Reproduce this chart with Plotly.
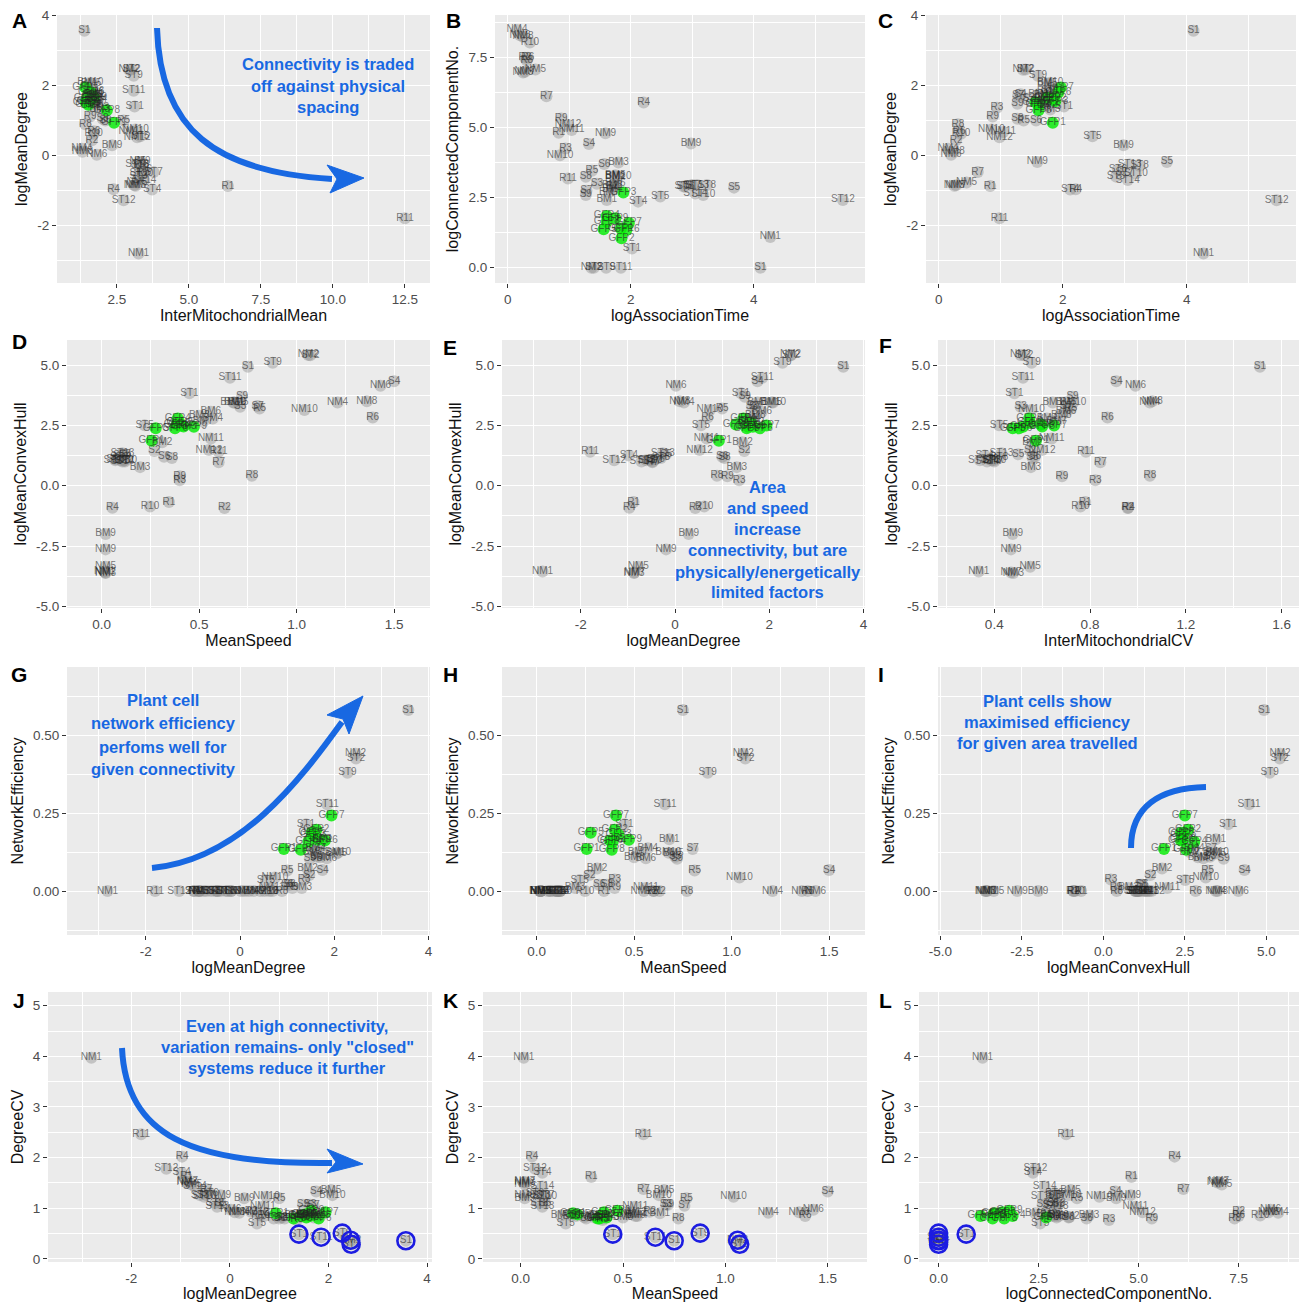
import plotly.graph_objects as go

W, H = 1301, 1302

# ---------------- data (one value per sample) ----------------
names = (['S%d' % i for i in range(1, 10)] + ['ST%d' % i for i in range(1, 15)] +
         ['NM%d' % i for i in range(1, 13)] + ['BM%d' % i for i in range(1, 11)] +
         ['R%d' % i for i in range(1, 12)] + ['GFP%d' % i for i in range(1, 10)])

InterMitochondrialMean = [
    1.37, 1.60, 1.80, 1.60, 3.30, 2.10, 1.70, 2.00, 1.70,
    3.11, 3.00, 3.25, 3.72, 3.31, 3.40, 3.77, 3.30, 3.08, 3.35, 3.08, 2.73, 3.20, 3.45,
    3.25, 2.92, 3.15, 1.28, 3.20, 1.80, 3.10, 1.30, 3.30, 3.14, 3.00, 3.20,
    1.70, 1.60, 1.90, 1.80, 1.60, 1.70, 1.75, 1.65, 2.33, 1.57,
    6.35, 1.63, 2.00, 2.38, 2.73, 1.70, 3.40, 1.40, 1.57, 1.69, 12.5,
    2.40, 1.45, 1.55, 1.50, 1.42, 1.60, 1.40, 2.15, 1.70]
logMeanDegree = [
    3.57, 1.47, 1.63, 1.75, -0.19, 1.00, 1.70, 1.05, 1.48,
    1.40, 2.46, -0.61, -0.98, 0.55, -0.41, -0.48, -0.30, 2.28, -0.52, 1.85, -1.29, -0.26, -0.71,
    -2.81, 2.45, -0.87, 0.19, -0.78, 0.02, -0.86, 0.10, -0.19, 0.74, 0.67, 0.52,
    1.75, 1.43, 1.31, 1.60, 2.05, 1.84, 1.55, 1.70, 0.29, 2.08,
    -0.88, 0.43, 1.36, -0.97, 1.00, 0.69, -0.48, 0.89, 1.11, 0.62, -1.80,
    0.93, 1.62, 1.55, 1.45, 1.52, 1.80, 1.94, 1.29, 1.65]
logAssociationTime = [
    4.11, 1.70, 1.45, 1.32, 3.68, 1.57, 1.28, 1.27, 1.27,
    2.02, 1.40, 2.86, 2.12, 2.48, 2.89, 3.00, 3.24, 1.60, 3.18, 1.84, 5.45, 3.08, 3.05,
    4.27, 1.36, 0.25, 0.15, 0.45, 0.20, 0.28, 0.25, 1.59, 0.85, 1.04, 0.98,
    1.61, 1.75, 1.80, 1.70, 1.75, 1.75, 1.65, 1.70, 2.98, 1.80,
    0.83, 0.28, 0.94, 2.21, 1.37, 0.33, 0.63, 0.31, 0.87, 0.36, 0.98,
    1.84, 1.85, 1.88, 1.61, 1.56, 1.93, 1.97, 1.61, 1.75]
logConnectedComponentNo = [
    0.00, 2.90, 3.00, 4.42, 2.86, 3.70, 2.75, 3.25, 2.60,
    0.69, 0.00, 2.90, 2.36, 2.54, 2.89, 2.95, 2.95, 0.00, 2.60, 0.00, 2.42, 2.95, 2.65,
    1.10, 0.00, 6.97, 8.49, 7.08, 8.30, 7.00, 8.25, 4.80, 4.02, 4.92, 5.10,
    2.42, 3.27, 3.76, 2.80, 3.30, 3.00, 2.70, 2.95, 4.44, 3.25,
    4.82, 7.50, 4.26, 5.90, 3.46, 7.50, 6.12, 7.40, 5.33, 8.04, 3.19,
    1.40, 1.05, 2.69, 1.85, 1.37, 1.35, 1.60, 1.64, 1.77]
MeanSpeed = [
    0.75, 0.27, 0.71, 1.50, 0.12, 0.32, 0.80, 0.36, 0.72,
    0.45, 1.07, 0.10, 0.106, 0.22, 0.07, 0.12, 0.09, 0.877, 0.12, 0.658, 0.07, 0.106, 0.106,
    0.015, 1.06, 0.02, 1.21, 0.02, 1.43, 0.02, 1.36, 0.02, 1.04, 0.56, 0.55,
    0.68, 0.31, 0.197, 0.57, 0.70, 0.56, 0.52, 0.50, 0.02, 0.675,
    0.345, 0.63, 0.40, 0.055, 0.81, 1.39, 0.60, 0.77, 0.40, 0.248, 0.60,
    0.256, 0.40, 0.42, 0.39, 0.277, 0.376, 0.407, 0.385, 0.473]
logMeanConvexHull = [
    4.93, 1.44, 3.27, 4.33, 1.30, 1.20, 3.30, 1.15, 3.69,
    3.83, 5.41, 1.05, 1.25, 2.51, 1.10, 1.00, 1.15, 5.10, 1.06, 4.47, 1.05, 1.35, 1.00,
    -3.56, 5.42, -3.62, 3.45, -3.36, 4.14, -3.60, 3.50, -2.64, 3.14, 1.96, 1.48,
    3.45, 1.80, 0.77, 2.79, 3.45, 3.07, 2.65, 2.90, -2.00, 3.45,
    -0.68, -0.92, 0.23, -0.91, 3.20, 2.83, 0.97, 0.41, 0.39, -0.86, 1.41,
    1.86, 2.60, 2.45, 2.79, 2.38, 2.38, 2.50, 2.54, 2.44]
InterMitochondrialCV = [
    1.51, 0.55, 0.51, 0.91, 0.50, 0.57, 0.70, 0.56, 0.727,
    0.484, 0.525, 0.39, 0.36, 0.42, 0.38, 0.40, 0.42, 0.556, 0.40, 0.52, 0.34, 0.43, 0.37,
    0.335, 0.51, 0.48, 1.05, 0.55, 0.99, 0.47, 1.06, 0.47, 0.555, 0.64, 0.60,
    0.644, 0.56, 0.553, 0.62, 0.70, 0.70, 0.66, 0.68, 0.477, 0.73,
    0.78, 0.957, 0.822, 0.96, 0.72, 0.873, 0.843, 1.05, 0.683, 0.76, 0.783,
    0.574, 0.55, 0.60, 0.546, 0.477, 0.504, 0.65, 0.595, 0.52]
NetworkEfficiency = [
    0.58, 0.051, 0.11, 0.067, 0.0, 0.02, 0.135, 0.02, 0.103,
    0.214, 0.425, 0.0, 0.0, 0.035, 0.0, 0.0, 0.0, 0.379, 0.0, 0.278, 0.0, 0.0, 0.0,
    0.0, 0.44, 0.0, 0.0, 0.0, 0.0, 0.0, 0.0, 0.0, 0.043, 0.01, 0.0,
    0.166, 0.072, 0.01, 0.137, 0.12, 0.105, 0.125, 0.108, 0.0, 0.123,
    0.0, 0.0, 0.037, 0.0, 0.066, 0.0, 0.0, 0.0, 0.01, 0.0, 0.0,
    0.135, 0.196, 0.18, 0.158, 0.187, 0.162, 0.242, 0.132, 0.164]
DegreeCV = [
    0.36, 0.85, 1.07, 1.33, 1.10, 0.80, 1.05, 0.82, 1.07,
    0.49, 0.29, 1.26, 1.70, 0.70, 1.30, 1.26, 1.10, 0.51, 1.23, 0.43, 1.78, 1.03, 1.43,
    3.97, 0.37, 1.51, 0.91, 1.47, 0.97, 1.52, 0.92, 1.26, 1.23, 1.03, 0.92,
    0.90, 0.83, 0.86, 0.85, 1.36, 0.85, 0.88, 0.82, 1.20, 1.26,
    1.62, 0.93, 0.77, 2.02, 1.20, 0.85, 1.38, 0.80, 0.80, 0.86, 2.46,
    0.90, 0.85, 0.82, 0.85, 0.88, 0.80, 0.92, 0.80, 0.95]

closed_systems = ['S1', 'ST1', 'ST2', 'ST9', 'ST11', 'NM2']

# ---------------- styling ----------------
FONT = 'Liberation Sans, Arial, Helvetica, sans-serif'
BLUE = 'rgb(24,104,226)'
RING = 'rgb(28,28,225)'


def fmt(v, d):
    return ('%.' + str(d) + 'f') % v


def axis_ticks(vals, d):
    return dict(tickmode='array', tickvals=vals, ticktext=[fmt(v, d) for v in vals])


xt_A = dict(vals=[2.5, 5, 7.5, 10, 12.5], d=1, minor=[1.25, 3.75, 6.25, 8.75, 11.25])
yt_deg = dict(vals=[-2, 0, 2, 4], d=0, minor=[-3, -1, 1, 3])
xt_AT = dict(vals=[0, 2, 4], d=0, minor=[1, 3, 5])
yt_CC = dict(vals=[0, 2.5, 5, 7.5], d=1, minor=[1.25, 3.75, 6.25, 8.75])
xt_MS = dict(vals=[0, 0.5, 1, 1.5], d=1, minor=[0.25, 0.75, 1.25])
yt_CH = dict(vals=[-5, -2.5, 0, 2.5, 5], d=1, minor=[-3.75, -1.25, 1.25, 3.75])
xt_MD = dict(vals=[-2, 0, 2, 4], d=0, minor=[-3, -1, 1, 3])
xt_CV = dict(vals=[0.4, 0.8, 1.2, 1.6], d=1, minor=[0.2, 0.6, 1.0, 1.4])
yt_NE = dict(vals=[0, 0.25, 0.5], d=2, minor=[-0.125, 0.125, 0.375, 0.625])
xt_CHx = dict(vals=[-5, -2.5, 0, 2.5, 5], d=1, minor=[-3.75, -1.25, 1.25, 3.75])
yt_DCV = dict(vals=[0, 1, 2, 3, 4, 5], d=0, minor=[0.5, 1.5, 2.5, 3.5, 4.5])
xt_CCx = dict(vals=[0, 2.5, 5, 7.5], d=1, minor=[1.25, 3.75, 6.25, 8.75])

panels = [
    dict(L='A', x=InterMitochondrialMean, y=logMeanDegree, xt='InterMitochondrialMean', yt='logMeanDegree',
         px=(57, 430), py=(15, 283), xr=(0.417, 13.37), yr=(-3.657, 4.02), xk=xt_A, yk=yt_deg, lp=(19, 21)),
    dict(L='B', x=logAssociationTime, y=logConnectedComponentNo, xt='logAssociationTime', yt='logConnectedComponentNo.',
         px=(495, 865), py=(15, 283), xr=(-0.207, 5.81), yr=(-0.546, 9.025), xk=xt_AT, yk=yt_CC, lp=(453, 21)),
    dict(L='C', x=logAssociationTime, y=logMeanDegree, xt='logAssociationTime', yt='logMeanDegree',
         px=(926, 1296), py=(15, 283), xr=(-0.205, 5.763), yr=(-3.657, 4.02), xk=xt_AT, yk=yt_deg, lp=(886, 21)),
    dict(L='D', x=MeanSpeed, y=logMeanConvexHull, xt='MeanSpeed', yt='logMeanConvexHull',
         px=(67, 430), py=(340, 608), xr=(-0.178, 1.684), yr=(-5.07, 6.04), xk=xt_MS, yk=yt_CH, lp=(19, 342)),
    dict(L='E', x=logMeanDegree, y=logMeanConvexHull, xt='logMeanDegree', yt='logMeanConvexHull',
         px=(502, 865), py=(340, 608), xr=(-3.67, 4.03), yr=(-5.07, 6.04), xk=xt_MD, yk=yt_CH, lp=(450, 348)),
    dict(L='F', x=InterMitochondrialCV, y=logMeanConvexHull, xt='InterMitochondrialCV', yt='logMeanConvexHull',
         px=(938, 1299), py=(340, 608), xr=(0.165, 1.673), yr=(-5.07, 6.04), xk=xt_CV, yk=yt_CH, lp=(886, 345)),
    dict(L='G', x=logMeanDegree, y=NetworkEfficiency, xt='logMeanDegree', yt='NetworkEfficiency',
         px=(67, 430), py=(667, 935), xr=(-3.67, 4.03), yr=(-0.141, 0.718), xk=xt_MD, yk=yt_NE, lp=(19, 674)),
    dict(L='H', x=MeanSpeed, y=NetworkEfficiency, xt='MeanSpeed', yt='NetworkEfficiency',
         px=(502, 865), py=(667, 935), xr=(-0.178, 1.684), yr=(-0.141, 0.718), xk=xt_MS, yk=yt_NE, lp=(450, 674)),
    dict(L='I', x=logMeanConvexHull, y=NetworkEfficiency, xt='logMeanConvexHull', yt='NetworkEfficiency',
         px=(938, 1299), py=(667, 935), xr=(-5.07, 6.0), yr=(-0.141, 0.718), xk=xt_CHx, yk=yt_NE, lp=(881, 674)),
    dict(L='J', x=logMeanDegree, y=DegreeCV, xt='logMeanDegree', yt='DegreeCV',
         px=(48, 432), py=(992, 1262), xr=(-3.69, 4.10), yr=(-0.06, 5.27), xk=xt_MD, yk=yt_DCV, lp=(19, 1000), ring=True),
    dict(L='K', x=MeanSpeed, y=DegreeCV, xt='MeanSpeed', yt='DegreeCV',
         px=(483, 867), py=(992, 1262), xr=(-0.184, 1.692), yr=(-0.06, 5.27), xk=xt_MS, yk=yt_DCV, lp=(450, 1000), ring=True),
    dict(L='L', x=logConnectedComponentNo, y=DegreeCV, xt='logConnectedComponentNo.', yt='DegreeCV',
         px=(919, 1299), py=(992, 1262), xr=(-0.49, 9.01), yr=(-0.06, 5.27), xk=xt_CCx, yk=yt_DCV, lp=(886, 1000), ring=True),
]

gray_idx = [k for k, n in enumerate(names) if not n.startswith('GFP')]
gfp_idx = [k for k, n in enumerate(names) if n.startswith('GFP')]
ring_idx = [names.index(n) for n in closed_systems]

fig = go.Figure()
layout = dict()
annotations = []

for i, p in enumerate(panels):
    n = i + 1
    xa = 'x' if n == 1 else 'x%d' % n
    ya = 'y' if n == 1 else 'y%d' % n
    xv, yv = p['x'], p['y']
    fig.add_trace(go.Scatter(
        x=[xv[k] for k in gray_idx], y=[yv[k] for k in gray_idx], mode='markers',
        marker=dict(size=12, color='rgba(140,140,140,0.42)', line=dict(width=0)),
        xaxis=xa, yaxis=ya, hoverinfo='skip', showlegend=False))
    fig.add_trace(go.Scatter(
        x=[xv[k] for k in gfp_idx], y=[yv[k] for k in gfp_idx], mode='markers',
        marker=dict(size=12, color='rgba(10,235,10,0.85)', line=dict(width=0)),
        xaxis=xa, yaxis=ya, hoverinfo='skip', showlegend=False))
    fig.add_trace(go.Scatter(
        x=xv, y=yv, mode='text', text=names, textposition='middle center',
        textfont=dict(family=FONT, size=10, color='rgba(35,35,35,0.6)'),
        xaxis=xa, yaxis=ya, hoverinfo='skip', showlegend=False))
    if p.get('ring'):
        fig.add_trace(go.Scatter(
            x=[xv[k] for k in ring_idx], y=[yv[k] for k in ring_idx], mode='markers',
            marker=dict(symbol='circle-open', size=17, color=RING, line=dict(color=RING, width=2.6)),
            xaxis=xa, yaxis=ya, hoverinfo='skip', showlegend=False))

    common = dict(showgrid=True, gridcolor='white', gridwidth=1.4, zeroline=False, showline=False,
                  ticks='outside', ticklen=4, tickwidth=1, tickcolor='#333333',
                  tickfont=dict(family=FONT, size=13.5, color='#4d4d4d'), automargin=False)
    xk, yk = p['xk'], p['yk']
    xaxis = dict(common, domain=[p['px'][0] / W, p['px'][1] / W], range=list(p['xr']), anchor=ya,
                 title=dict(text=p['xt'], font=dict(family=FONT, size=16, color='#111111'), standoff=3),
                 minor=dict(tickmode='array', tickvals=xk['minor'], showgrid=True, gridcolor='white',
                            gridwidth=0.7, ticks=''),
                 **axis_ticks(xk['vals'], xk['d']))
    yaxis = dict(common, domain=[1 - p['py'][1] / H, 1 - p['py'][0] / H], range=list(p['yr']), anchor=xa,
                 title=dict(text=p['yt'], font=dict(family=FONT, size=16, color='#111111'), standoff=5),
                 minor=dict(tickmode='array', tickvals=yk['minor'], showgrid=True, gridcolor='white',
                            gridwidth=0.7, ticks=''),
                 **axis_ticks(yk['vals'], yk['d']))
    layout['xaxis' if n == 1 else 'xaxis%d' % n] = xaxis
    layout['yaxis' if n == 1 else 'yaxis%d' % n] = yaxis
    annotations.append(dict(text='<b>%s</b>' % p['L'], x=p['lp'][0] / W, y=1 - p['lp'][1] / H,
                            xref='paper', yref='paper', showarrow=False, xanchor='center', yanchor='middle',
                            font=dict(family=FONT, size=21, color='black')))

# ---------------- blue commentary ----------------
notes = [
    (328, [64.3, 85.7, 106.7], ['Connectivity is traded', 'off against physical', 'spacing']),
    (768, [486.7, 508.3, 529, 550, 571.7, 592.3],
     ['Area', 'and speed', 'increase', 'connectivity, but are', 'physically/energetically', 'limited factors']),
    (163, [700, 723.3, 746.7, 769.3],
     ['Plant cell', 'network efficiency', 'perfoms well for', 'given connectivity']),
    (1047, [700.7, 721.7, 742.7],
     ['Plant cells show', 'maximised efficiency', 'for given area travelled']),
    (287, [1025.7, 1046.7, 1067.7],
     ['Even at high connectivity,', 'variation remains- only "closed"', 'systems reduce it further']),
]
for cx, ys, lines in notes:
    for yy, t in zip(ys, lines):
        annotations.append(dict(text='<b>%s</b>' % t, x=cx / W, y=1 - yy / H, xref='paper', yref='paper',
                                showarrow=False, xanchor='center', yanchor='middle',
                                font=dict(family=FONT, size=16.5, color=BLUE)))


def P(x, y):
    return '%.5f,%.5f' % (x / W, 1 - y / H)


shapes = []


def curve(p0, p1, p2, p3, width=6):
    shapes.append(dict(type='path', xref='paper', yref='paper',
                       path='M %s C %s %s %s' % (P(*p0), P(*p1), P(*p2), P(*p3)),
                       line=dict(color=BLUE, width=width), fillcolor='rgba(0,0,0,0)'))


def head(tip, c1, notch, c2):
    shapes.append(dict(type='path', xref='paper', yref='paper',
                       path='M %s L %s L %s L %s Z' % (P(*tip), P(*c1), P(*notch), P(*c2)),
                       line=dict(color=BLUE, width=1), fillcolor=BLUE))


# panel A arrow
curve((157, 28), (160, 130), (215, 172), (332, 179))
head((364, 178), (327, 165), (337, 179), (330, 193))
# panel G arrow
curve((152, 868), (240, 860), (300, 780), (342, 722))
head((363, 696), (327, 715), (343, 719), (349, 734))
# panel I arc
curve((1131, 848), (1131, 806), (1160, 788), (1206, 787))
# panel J arrow
curve((122, 1048), (126, 1135), (190, 1165), (332, 1163))
head((363, 1164), (327, 1149), (336, 1162), (327, 1173))

fig.update_layout(
    width=W, height=H, margin=dict(l=0, r=0, t=0, b=0),
    paper_bgcolor='white', plot_bgcolor='#EBEBEB',
    font=dict(family=FONT), showlegend=False, hovermode=False,
    annotations=annotations, shapes=shapes, **layout)

fig.write_html('out.html', config={'displayModeBar': False},
               post_script="document.body.style.margin='0';document.body.style.overflow='hidden';")
